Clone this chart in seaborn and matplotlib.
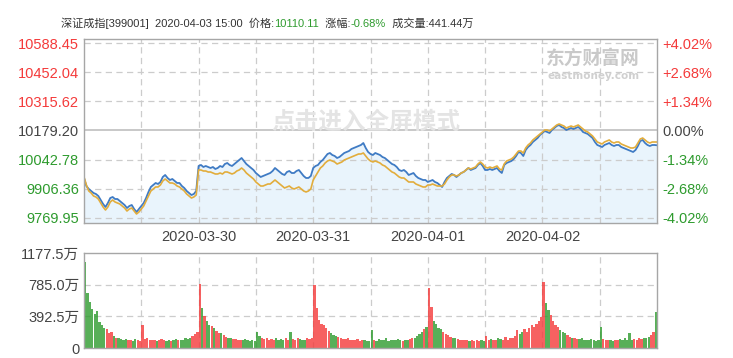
import numpy as np
import pandas as pd
import matplotlib
matplotlib.use("Agg")
import matplotlib.pyplot as plt
import seaborn as sns
from matplotlib.offsetbox import TextArea, HPacker, AnchoredOffsetbox

# ---------------- data ----------------
price = [
    9957.1, 9919.6, 9905.6, 9896.3, 9886.9, 9882.2, 9872.9, 9854.2, 9835.5, 9821.4,
    9840.1, 9863.5, 9868.2, 9858.8, 9858.8, 9849.5, 9840.1, 9830.8, 9816.7, 9826.1,
    9830.8, 9812.1, 9798.0, 9812.1, 9826.1, 9840.1, 9863.5, 9891.6, 9915.0, 9924.3,
    9933.7, 9929.0, 9938.4, 9961.7, 9971.1, 9957.1, 9947.7, 9952.4, 9943.0, 9933.7,
    9933.7, 9919.6, 9910.3, 9896.3, 9886.9, 9877.5, 9882.2, 9896.3,
    10013.2, 10017.9, 10008.5, 10013.2, 10008.5, 10003.8, 10008.5, 9999.2, 10003.8, 10013.2,
    10008.5, 10022.5, 10027.2, 10017.9, 10013.2, 10022.5, 10031.9, 10041.2, 10050.6, 10036.6,
    10022.5, 10013.2, 10003.8, 9994.5, 9980.4, 9971.1, 9961.7, 9966.4, 9971.1, 9975.8,
    9980.4, 9989.8, 10003.8, 9994.5, 9985.1, 9975.8, 9971.1, 9985.1, 9989.8, 9980.4,
    9980.4, 9989.8, 9994.5, 9980.4, 9966.4, 9957.1, 9957.1, 9966.4,
    10003.8, 10013.2, 10017.9, 10031.9, 10041.2, 10055.3, 10069.3, 10074.0, 10064.6, 10060.0,
    10050.6, 10055.3, 10064.6, 10074.0, 10078.7, 10083.3, 10092.7, 10097.4, 10102.0, 10106.7,
    10111.4, 10120.7, 10097.4, 10078.7, 10069.3, 10064.6, 10074.0, 10069.3, 10064.6, 10055.3,
    10050.6, 10041.2, 10031.9, 10022.5, 10017.9, 10008.5, 9994.5, 9989.8, 9994.5, 9985.1,
    9971.1, 9975.8, 9980.4, 9966.4, 9957.1, 9952.4, 9947.7, 9947.7,
    9938.4, 9943.0, 9947.7, 9938.4, 9933.7, 9924.3, 9915.0, 9938.4, 9957.1, 9966.4,
    9975.8, 9971.1, 9961.7, 9971.1, 9980.4, 9985.1, 9994.5, 10003.8, 9994.5, 9999.2,
    10003.8, 10017.9, 10027.2, 10013.2, 9994.5, 9994.5, 9999.2, 9994.5, 9999.2, 10003.8,
    9989.8, 9980.4, 10017.9, 10027.2, 10031.9, 10036.6, 10045.9, 10060.0, 10078.7, 10074.0,
    10060.0, 10088.0, 10102.0, 10111.4, 10125.4, 10134.8, 10144.1, 10158.2,
    10167.5, 10176.9, 10172.2, 10167.5, 10181.5, 10190.9, 10200.2, 10204.9, 10195.6, 10190.9,
    10181.5, 10186.2, 10190.9, 10186.2, 10190.9, 10195.6, 10186.2, 10172.2, 10167.5, 10162.8,
    10153.5, 10144.1, 10125.4, 10111.4, 10106.7, 10102.0, 10111.4, 10116.1, 10120.7, 10111.4,
    10106.7, 10111.4, 10111.4, 10102.0, 10097.4, 10092.7, 10088.0, 10083.3, 10078.7, 10088.0,
    10106.7, 10130.1, 10134.8, 10120.7, 10111.4, 10106.7, 10111.4, 10111.4, 10110.11,
]

avg_price = [
    9961.7, 9924.3, 9896.3, 9886.9, 9872.9, 9868.2, 9858.8, 9840.1, 9821.4, 9807.4,
    9821.4, 9844.8, 9854.2, 9844.8, 9840.1, 9835.5, 9826.1, 9816.7, 9802.7, 9812.1,
    9816.7, 9802.7, 9788.7, 9798.0, 9812.1, 9826.1, 9849.5, 9872.9, 9896.3, 9905.6,
    9915.0, 9915.0, 9924.3, 9943.0, 9952.4, 9943.0, 9933.7, 9933.7, 9929.0, 9919.6,
    9915.0, 9905.6, 9896.3, 9882.2, 9872.9, 9863.5, 9868.2, 9877.5,
    9994.5, 9994.5, 9989.8, 9989.8, 9985.1, 9985.1, 9980.4, 9975.8, 9975.8, 9980.4,
    9975.8, 9985.1, 9985.1, 9980.4, 9975.8, 9980.4, 9989.8, 9994.5, 10003.8, 9994.5,
    9980.4, 9971.1, 9961.7, 9952.4, 9938.4, 9929.0, 9919.6, 9919.6, 9924.3, 9929.0,
    9929.0, 9938.4, 9947.7, 9938.4, 9929.0, 9919.6, 9910.3, 9915.0, 9919.6, 9910.3,
    9905.6, 9910.3, 9915.0, 9905.6, 9896.3, 9891.6, 9896.3, 9905.6,
    9947.7, 9966.4, 9985.1, 10003.8, 10013.2, 10027.2, 10036.6, 10041.2, 10036.6, 10031.9,
    10022.5, 10027.2, 10031.9, 10041.2, 10045.9, 10050.6, 10055.3, 10060.0, 10064.6, 10069.3,
    10069.3, 10074.0, 10060.0, 10045.9, 10036.6, 10031.9, 10036.6, 10031.9, 10027.2, 10017.9,
    10013.2, 10003.8, 9994.5, 9985.1, 9980.4, 9971.1, 9961.7, 9957.1, 9957.1, 9947.7,
    9938.4, 9938.4, 9938.4, 9929.0, 9924.3, 9919.6, 9915.0, 9915.0,
    9924.3, 9924.3, 9929.0, 9924.3, 9919.6, 9919.6, 9919.6, 9929.0, 9947.7, 9961.7,
    9971.1, 9971.1, 9966.4, 9971.1, 9980.4, 9985.1, 9994.5, 10003.8, 9999.2, 10003.8,
    10008.5, 10022.5, 10031.9, 10022.5, 10008.5, 10003.8, 10008.5, 10003.8, 10008.5, 10013.2,
    9999.2, 9994.5, 10022.5, 10036.6, 10041.2, 10045.9, 10055.3, 10069.3, 10083.3, 10083.3,
    10074.0, 10097.4, 10111.4, 10120.7, 10134.8, 10144.1, 10153.5, 10162.8,
    10172.2, 10181.5, 10181.5, 10176.9, 10186.2, 10195.6, 10204.9, 10209.6, 10204.9, 10200.2,
    10190.9, 10195.6, 10200.2, 10195.6, 10200.2, 10204.9, 10195.6, 10186.2, 10176.9, 10172.2,
    10162.8, 10153.5, 10139.5, 10125.4, 10120.7, 10116.1, 10125.4, 10130.1, 10134.8, 10125.4,
    10120.7, 10125.4, 10125.4, 10116.1, 10111.4, 10106.7, 10102.0, 10097.4, 10097.4, 10102.0,
    10120.7, 10139.5, 10144.1, 10134.8, 10125.4, 10120.7, 10125.4, 10125.4, 10125.4,
]

volume = [
    1070, 680, 570, 480, 420, 460, 320, 290, 250, 230, 190, 200, 150, 130, 120, 110,
    105, 115, 95, 100, 90, 110, 95, 85, 280, 110, 130, 100, 95, 105, 90, 100,
    110, 95, 90, 100, 85, 95, 110, 100, 95, 105, 120, 110, 130, 150, 170, 200,
    790, 490, 400, 330, 290, 270, 250, 210, 190, 180, 160, 140, 130, 120, 110, 115,
    100, 105, 95, 110, 100, 90, 95, 85, 200, 150, 120, 110, 130, 100, 110, 95,
    120, 100, 110, 105, 130, 100, 195, 110, 100, 120, 110, 95, 100, 120, 115, 130,
    780, 490, 350, 300, 285, 250, 210, 190, 165, 150, 140, 130, 115, 110, 120, 100,
    105, 95, 110, 90, 100, 95, 85, 90, 220, 100, 90, 110, 95, 100, 120, 90,
    100, 105, 95, 110, 100, 90, 105, 100, 110, 120, 130, 150, 170, 200, 230, 260,
    740, 510, 330, 300, 250, 230, 200, 170, 160, 140, 130, 120, 110, 100, 105, 95,
    100, 90, 95, 85, 100, 90, 95, 90, 150, 100, 110, 95, 100, 120, 110, 105,
    140, 100, 120, 130, 150, 220, 170, 200, 230, 200, 250, 280, 260, 300, 330, 380,
    820, 560, 470, 410, 330, 290, 260, 225, 200, 180, 160, 140, 130, 120, 115, 110,
    120, 100, 105, 95, 110, 100, 90, 95, 260, 110, 100, 95, 105, 90, 100, 95,
    110, 100, 130, 105, 180, 95, 110, 100, 120, 110, 130, 120, 140, 160, 200, 450,
]

price_ticks = [10588.45, 10452.04, 10315.62, 10179.20, 10042.78, 9906.36, 9769.95]
pct_labels = ["+4.02%", "+2.68%", "+1.34%", "0.00%", "-1.34%", "-2.68%", "-4.02%"]
prev_close = 10179.20
vol_ticks = [0, 392.5, 785.0, 1177.5]
vol_labels = ["0", "392.5万", "785.0万", "1177.5万"]
date_labels = ["2020-03-30", "2020-03-31", "2020-04-01", "2020-04-02"]
steps_per_day = 48
n_days = 5

header_parts = [
    ("深证成指[399001]  2020-04-03 15:00  价格:", "dark"),
    ("10110.11", "green"),
    ("  涨幅:", "dark"),
    ("-0.68%", "green"),
    ("  成交量:441.44万", "dark"),
]

# ---------------- style ----------------
sns.set_style("white")
FONT = ["Liberation Sans", "Noto Sans CJK SC", "DejaVu Sans"]
plt.rcParams["font.family"] = FONT

RED = "#f43a3a"
GREEN = "#2e9b2e"
DARK = "#444444"
GRID = "#cccccc"
SPINE = "#a6a6a6"
BLUE = "#3f7bc4"
YELLOW = "#e2ad3c"
FILL = "#e9f4fc"

W, H = 733, 358
fig = plt.figure(figsize=(W / 100, H / 100), dpi=100)
ax = fig.add_axes([84 / W, 1 - 223 / H, 573 / W, 184 / H])
axv = fig.add_axes([84 / W, 1 - 348 / H, 573 / W, 95 / H])

n_total = steps_per_day * n_days
x = np.arange(len(price))
df = pd.DataFrame({"x": x, "price": price, "avg": avg_price})

ymin, ymax = 9746.56, 10607.16
grid_x = np.arange(0, n_total + 1, steps_per_day // 2)

# ---- price panel ----
ax.fill_between(df["x"], df["price"], ymin, color=FILL, lw=0, zorder=1)
for gx in grid_x[1:-1]:
    ax.axvline(gx, color=GRID, lw=0.9, ls=(0, (5, 3.5)), zorder=2)
for t in price_ticks:
    if t == prev_close:
        ax.axhline(t, color="#c4c4c4", lw=1.3, zorder=2)
    else:
        ax.axhline(t, color=GRID, lw=0.9, ls=(0, (5, 3.5)), zorder=2)
sns.lineplot(data=df, x="x", y="price", ax=ax, color=BLUE, lw=1.3, zorder=4)
sns.lineplot(data=df, x="x", y="avg", ax=ax, color=YELLOW, lw=1.2, zorder=5)
ax.set_xlim(0, n_total)
ax.set_ylim(ymin, ymax)
ax.set_xlabel("")
ax.set_ylabel("")
ax.set_yticks(price_ticks)
ax.set_yticklabels([f"{t:.2f}" for t in price_ticks], fontsize=10.5)
for lab, t in zip(ax.get_yticklabels(), price_ticks):
    lab.set_color(RED if t > prev_close else (GREEN if t < prev_close else DARK))
day_pos = [steps_per_day * (d + 1) for d in range(len(date_labels))]
ax.set_xticks(day_pos)
ax.set_xticklabels(date_labels, fontsize=10.5, color=DARK)
ax.tick_params(axis="both", length=0)
ax.tick_params(axis="y", pad=3.5)
ax.tick_params(axis="x", pad=5)
for s in ax.spines.values():
    s.set_color(SPINE)
    s.set_linewidth(1.0)
    s.set_zorder(6)

ax2 = ax.twinx()
ax2.set_ylim(ymin, ymax)
ax2.set_yticks(price_ticks)
ax2.set_yticklabels(pct_labels, fontsize=10.5)
for lab, t in zip(ax2.get_yticklabels(), price_ticks):
    lab.set_color(RED if t > prev_close else (GREEN if t < prev_close else DARK))
ax2.tick_params(axis="y", length=0, pad=4)
for s in ax2.spines.values():
    s.set_visible(False)

# ---- volume panel ----
vx = np.arange(len(volume)) + 0.5
vcol = [RED if price[i + 1] >= price[i] else GREEN for i in range(len(volume))]
for gx in grid_x[1:-1]:
    axv.axvline(gx, color=GRID, lw=0.9, ls=(0, (5, 3.5)), zorder=1)
for t in vol_ticks[1:-1]:
    axv.axhline(t, color=GRID, lw=0.9, ls=(0, (5, 3.5)), zorder=1)
axv.bar(vx, volume, width=0.95, color=vcol, alpha=0.8, lw=0, zorder=3)
axv.set_xlim(0, n_total)
axv.set_ylim(0, vol_ticks[-1])
axv.set_yticks(vol_ticks)
axv.set_yticklabels(vol_labels, fontsize=10.5, color=DARK)
axv.set_xticks([])
axv.tick_params(axis="both", length=0)
axv.tick_params(axis="y", pad=3.5)
for s in axv.spines.values():
    s.set_color(SPINE)
    s.set_linewidth(1.0)
    s.set_zorder(6)

# ---- header ----
cmap = {"dark": "#333333", "green": GREEN}
boxes = [TextArea(t, textprops=dict(color=cmap[c], fontsize=8, family=FONT))
         for t, c in header_parts]
pack = HPacker(children=boxes, align="baseline", pad=0, sep=0)
ab = AnchoredOffsetbox(loc="center", child=pack, bbox_to_anchor=(267 / W, 1 - 23 / H),
                       bbox_transform=fig.transFigure, frameon=False, pad=0, borderpad=0)
fig.add_artist(ab)

# ---- watermarks ----
fig.text(366 / W, 1 - 122 / H, "点击进入全屏模式", fontsize=17, fontweight="bold",
         color="#e4e4e4", ha="center", va="center", family=["Noto Sans CJK SC"], zorder=3)
fig.text(593 / W, 1 - 58 / H, "东方财富网", fontsize=13.5, fontweight="bold",
         color="#c9c9c9", ha="center", va="center", family=["Noto Sans CJK SC"])
fig.text(594 / W, 1 - 76 / H, "eastmoney.com", fontsize=7.5, fontweight="bold",
         color="#d0d0d0", ha="center", va="center", family=["DejaVu Sans"])

fig.savefig("out.png", dpi=100, facecolor="white")
